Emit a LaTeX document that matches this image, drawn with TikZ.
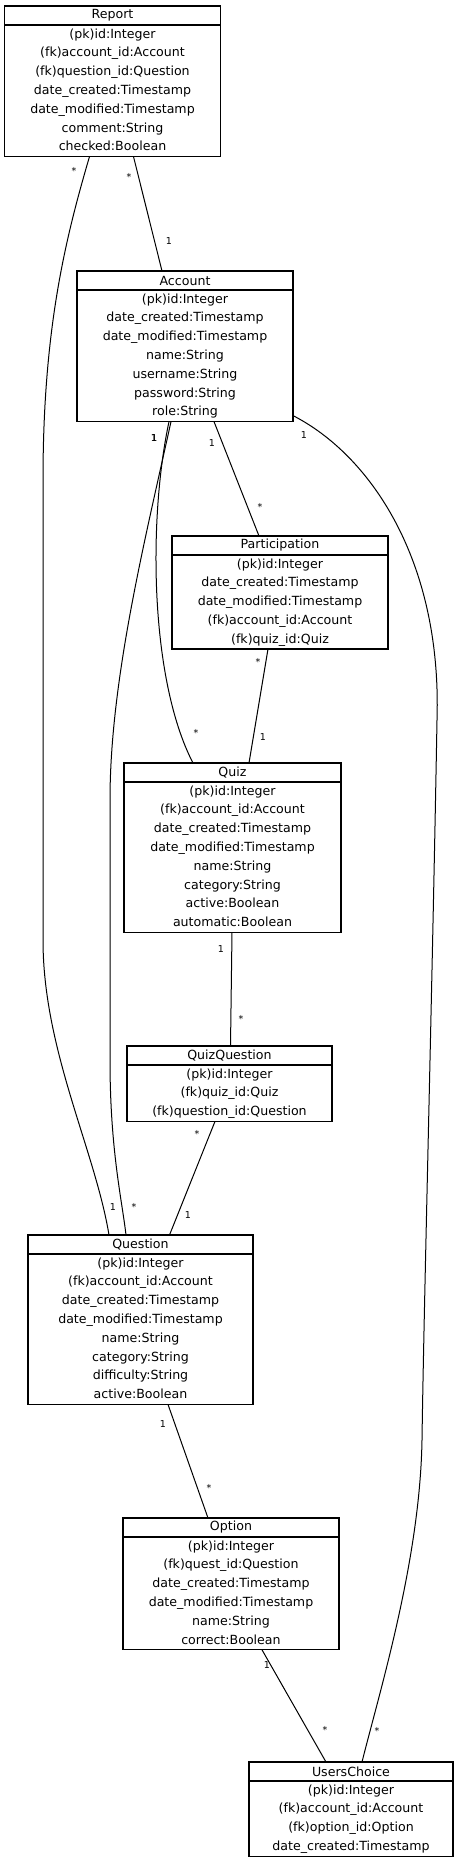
\documentclass[tikz,border=0pt]{standalone}
\usepackage{fontspec}
\setmainfont{DejaVu Sans}
\usetikzlibrary{positioning}

\begin{document}
\begin{tikzpicture}[x=1pt, y=-1pt, enthead/.style={draw, line width=1.1pt, inner sep=0pt, outer sep=0pt, minimum height=19pt, font=\fontsize{12.6}{19}\selectfont}, entbody/.style={draw, line width=1.1pt, inner sep=0pt, outer sep=0pt, align=center, font=\fontsize{12.6}{18.8}\selectfont}, rel/.style={line width=1pt}, card/.style={inner sep=0pt, font=\fontsize{9.5}{10}\selectfont}
]
  \useasboundingbox (0,0) rectangle (458,1862);
  % entities
  \node[enthead, minimum width=216pt] (reportT) at (112.5,15.5) {Report};
  \node[entbody, minimum width=216pt, minimum height=131.6pt, below=0pt of reportT] (report)
    {\strut(pk)id:Integer\\(fk)account\_id:Account\\(fk)question\_id:Question\\date\_created:Timestamp\\date\_modified:Timestamp\\comment:String\\checked:Boolean\strut};
  \node[enthead, minimum width=216pt] (accountT) at (185,280.5) {Account};
  \node[entbody, minimum width=216pt, minimum height=131.6pt, below=0pt of accountT] (account)
    {\strut(pk)id:Integer\\date\_created:Timestamp\\date\_modified:Timestamp\\name:String\\username:String\\password:String\\role:String\strut};
  \node[enthead, minimum width=216pt] (partT) at (280,545.5) {Participation};
  \node[entbody, minimum width=216pt, minimum height=94pt, below=0pt of partT] (part)
    {\strut(pk)id:Integer\\date\_created:Timestamp\\date\_modified:Timestamp\\(fk)account\_id:Account\\(fk)quiz\_id:Quiz\strut};
  \node[enthead, minimum width=217pt] (quizT) at (232.5,772.5) {Quiz};
  \node[entbody, minimum width=217pt, minimum height=150.4pt, below=0pt of quizT] (quiz)
    {\strut(pk)id:Integer\\(fk)account\_id:Account\\date\_created:Timestamp\\date\_modified:Timestamp\\name:String\\category:String\\active:Boolean\\automatic:Boolean\strut};
  \node[enthead, minimum width=205pt] (qqT) at (229.5,1055.5) {QuizQuestion};
  \node[entbody, minimum width=205pt, minimum height=56.4pt, below=0pt of qqT] (qq)
    {\strut(pk)id:Integer\\(fk)quiz\_id:Quiz\\(fk)question\_id:Question\strut};
  \node[enthead, minimum width=225pt] (questionT) at (140.5,1244.5) {Question};
  \node[entbody, minimum width=225pt, minimum height=150.4pt, below=0pt of questionT] (question)
    {\strut(pk)id:Integer\\(fk)account\_id:Account\\date\_created:Timestamp\\date\_modified:Timestamp\\name:String\\category:String\\difficulty:String\\active:Boolean\strut};
  \node[enthead, minimum width=216pt] (optionT) at (231,1527.5) {Option};
  \node[entbody, minimum width=216pt, minimum height=112.8pt, below=0pt of optionT] (option)
    {\strut(pk)id:Integer\\(fk)quest\_id:Question\\date\_created:Timestamp\\date\_modified:Timestamp\\name:String\\correct:Boolean\strut};
  \node[enthead, minimum width=204pt] (choiceT) at (351,1771.5) {UsersChoice};
  \node[entbody, minimum width=204pt, minimum height=75.2pt, below=0pt of choiceT] (choice)
    {\strut(pk)id:Integer\\(fk)account\_id:Account\\(fk)option\_id:Option\\date\_created:Timestamp\strut};
  % relations
  \draw[rel] ([xshift=21pt]report.south) -- ([xshift=-23pt]accountT.north);
  \draw[rel] ([xshift=-23pt]report.south) .. controls (65,240) and (43,330) .. (43,480) -- (43,940)
    .. controls (43,1050) and (95,1150) .. ([xshift=-31.5pt]questionT.north);
  \draw[rel] ([xshift=29pt]account.south) -- ([xshift=-21pt]partT.north);
  \draw[rel] ([xshift=-16pt]account.south) .. controls (148,520) and (150,680) .. ([xshift=-39.5pt]quizT.north);
  \draw[rel] ([xshift=-14pt]account.south) .. controls (145,540) and (110,680) .. (110,800) -- (110,1060)
    .. controls (110,1150) and (122,1200) .. ([xshift=-14.5pt]questionT.north);
  \draw[rel] ([yshift=6pt]account.south east) .. controls (370,455) and (442,560) .. (437,720)
    .. controls (432,1000) and (424,1300) .. (422,1440) .. controls (420,1560) and (380,1690) .. ([xshift=11pt]choiceT.north);
  \draw[rel] ([xshift=-12pt]part.south) -- ([xshift=16.5pt]quizT.north);
  \draw[rel] ([xshift=-0.5pt]quiz.south) -- ([xshift=1pt]qqT.north);
  \draw[rel] ([xshift=-14.5pt]qq.south) -- ([xshift=29pt]questionT.north);
  \draw[rel] ([xshift=27.5pt]question.south) -- ([xshift=-23pt]optionT.north);
  \draw[rel] ([xshift=31pt]option.south) -- ([xshift=-25pt]choiceT.north);
  % multiplicities
  \node[card] (c1) at (129,177) {*};
  \node[card] (c2) at (169,241) {1};
  \node[card] (c3) at (74,171) {*};
  \node[card] (c4) at (113,1207) {1};
  \node[card] (c5) at (212,443) {1};
  \node[card] (c6) at (260,507) {*};
  \node[card] (c7) at (154,438) {1};
  \node[card] (c8) at (196,733) {*};
  \node[card] (c9) at (154.4,438) {1};
  \node[card] (c10) at (134,1207) {*};
  \node[card] (c11) at (304,435) {1};
  \node[card] (c12) at (377,1731) {*};
  \node[card] (c13) at (258,662) {*};
  \node[card] (c14) at (263,737) {1};
  \node[card] (c15) at (221,949) {1};
  \node[card] (c16) at (241,1019) {*};
  \node[card] (c17) at (197,1134) {*};
  \node[card] (c18) at (188,1215) {1};
  \node[card] (c19) at (163,1424) {1};
  \node[card] (c20) at (209,1488) {*};
  \node[card] (c21) at (267,1665) {1};
  \node[card] (c22) at (325,1730) {*};
\end{tikzpicture}
\end{document}
